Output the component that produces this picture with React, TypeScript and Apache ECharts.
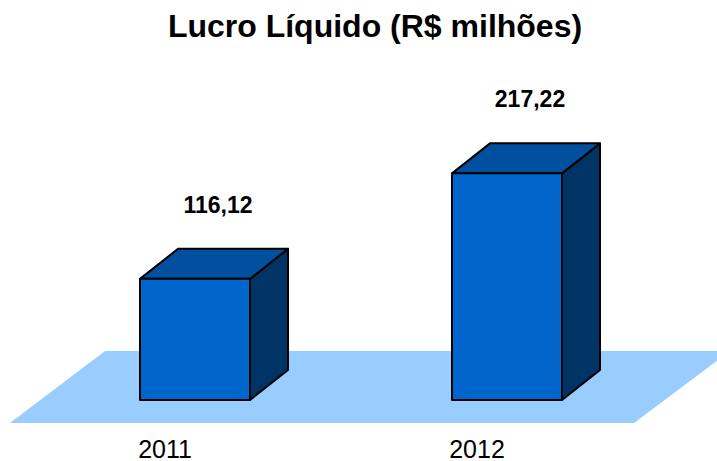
import React, { useEffect, useRef } from "react";
import * as echarts from "echarts";

const categories = ["2011", "2012"];
const values = [116.12, 217.22];
const valueLabels = ["116,12", "217,22"];
const titleText = "Lucro Líquido (R$ milhões)";

export default function App() {
  const ref = useRef<HTMLDivElement>(null);
  useEffect(() => {
    if (!ref.current) return;
    const chart = echarts.init(ref.current, null, { renderer: "svg" });
    const font = "'Liberation Sans', Arial, Helvetica, sans-serif";
    const DX = 38;
    const DY = -30;
    chart.setOption({
      animation: false,
      backgroundColor: "#ffffff",
      title: {
        text: titleText,
        left: 370,
        textAlign: "center",
        top: 5,
        textStyle: { fontFamily: font, fontWeight: "bold", fontSize: 32, color: "#000" },
      },
      grid: { left: 9, right: 84, top: 87, bottom: 59, containLabel: false },
      xAxis: {
        type: "category",
        data: categories,
        axisLine: { show: false },
        axisTick: { show: false },
        axisLabel: { fontFamily: font, fontSize: 25, color: "#000", margin: 36 },
      },
      yAxis: {
        type: "value",
        min: 0,
        max: 300,
        show: false,
        splitLine: { show: false },
      },
      graphic: [
        {
          type: "polygon",
          z: -10,
          silent: true,
          shape: { points: [[10, 423], [105, 351], [730, 351], [634, 423]] },
          style: { fill: "#99CCFF" },
        },
      ],
      series: [
        {
          type: "custom",
          data: values.map((v, i) => [i, v]),
          encode: { x: 0, y: 1 },
          renderItem: (params: any, api: any) => {
            const idx = api.value(0);
            const val = api.value(1);
            const top = api.coord([idx, val]);
            const base = api.coord([idx, 0]);
            const x0 = top[0] - 25;
            const x1 = top[0] + 85;
            const yT = top[1];
            const yB = base[1];
            const stroke = { stroke: "#000", lineWidth: 2, lineJoin: "round" };
            return {
              type: "group",
              children: [
                {
                  type: "polygon",
                  shape: { points: [[x1, yT], [x1 + DX, yT + DY], [x1 + DX, yB + DY], [x1, yB]] },
                  style: { fill: "#003366", ...stroke },
                },
                {
                  type: "polygon",
                  shape: { points: [[x0, yT], [x0 + DX, yT + DY], [x1 + DX, yT + DY], [x1, yT]] },
                  style: { fill: "#00509F", ...stroke },
                },
                {
                  type: "polygon",
                  shape: { points: [[x0, yT], [x1, yT], [x1, yB], [x0, yB]] },
                  style: { fill: "#0066CC", ...stroke },
                },
                {
                  type: "text",
                  x: top[0] + 53,
                  y: yT - 74,
                  style: {
                    text: valueLabels[params.dataIndex],
                    fontFamily: font,
                    fontWeight: "bold",
                    fontSize: 23,
                    fill: "#000",
                    align: "center",
                    verticalAlign: "middle",
                  },
                },
              ],
            };
          },
        },
      ],
    });
    return () => chart.dispose();
  }, []);
  return <div ref={ref} style={{ width: 717, height: 461, position: "absolute", left: 0, top: 0 }} />;
}
